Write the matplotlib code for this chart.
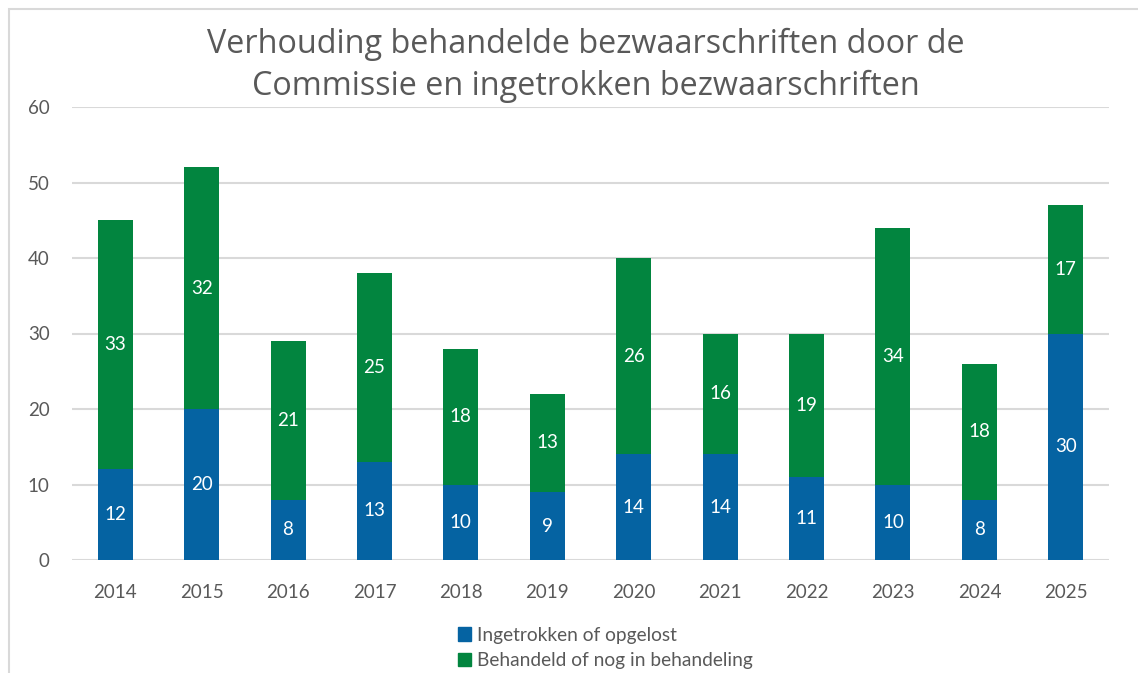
import matplotlib.pyplot as plt
import numpy as np
from matplotlib.patches import Patch, Rectangle

plt.rcParams['font.family'] = ['Lato', 'DejaVu Sans']

years = ['2014', '2015', '2016', '2017', '2018', '2019',
         '2020', '2021', '2022', '2023', '2024', '2025']
ingetrokken = [12, 20, 8, 13, 10, 9, 14, 14, 11, 10, 8, 30]
behandeld = [33, 32, 21, 25, 18, 13, 26, 16, 19, 34, 18, 17]

blue = '#0563A2'
green = '#02853F'
grey = '#595959'

fig = plt.figure(figsize=(11.38, 6.73), dpi=100)
W, H = 1138, 673

# chart border (left and top visible only, rest runs off the picture)
fig.patches.append(Rectangle((8.5 / W, -0.1), 1.2, (H - 9.5) / H + 0.1,
                             transform=fig.transFigure, fill=False,
                             edgecolor='#d9d9d9', linewidth=1.5))
fig.text(0.0, 1.0 + 12 / H, 'Grafiek 2', fontsize=15, color='black',
         ha='left', va='baseline')

ax = fig.add_axes([72 / W, (H - 560) / H, (1109 - 72) / W, (560 - 107) / H])
x = np.arange(len(years))
b1 = ax.bar(x, ingetrokken, width=0.405, color=blue, zorder=3)
b2 = ax.bar(x, behandeld, width=0.405, bottom=ingetrokken, color=green, zorder=3)
ax.bar_label(b1, label_type='center', color='white', fontsize=13.5)
ax.bar_label(b2, label_type='center', color='white', fontsize=13.5)

ax.set_xlim(-0.5, len(years) - 0.5)
ax.set_ylim(0, 60)
ax.set_yticks(range(0, 61, 10))
ax.set_xticks(x)
ax.set_xticklabels(years)
ax.yaxis.grid(True, color='#d9d9d9', linewidth=1.5, zorder=0)
for s in ax.spines.values():
    s.set_visible(False)
ax.tick_params(axis='both', length=0, labelsize=13.5, labelcolor=grey)
ax.tick_params(axis='y', pad=16)
ax.tick_params(axis='x', pad=17)

title_font = ['Open Sans', 'DejaVu Sans']
fig.text(586 / W, 1 - 53 / H, 'Verhouding behandelde bezwaarschriften door de',
         fontsize=23.3, color=grey, ha='center', va='baseline', family=title_font)
fig.text(586 / W, 1 - 95 / H, 'Commissie en ingetrokken bezwaarschriften',
         fontsize=23.3, color=grey, ha='center', va='baseline', family=title_font)

handles = [Patch(color=blue), Patch(color=green)]
fig.legend(handles, ['Ingetrokken of opgelost', 'Behandeld of nog in behandeling'],
           loc='upper left', bbox_to_anchor=(448 / W, 1 - 617 / H), frameon=False,
           fontsize=13.8, labelcolor=grey, handlelength=0.7, handleheight=0.7,
           handletextpad=0.3, labelspacing=0.45, borderpad=0)

fig.savefig('out.png', dpi=100)
